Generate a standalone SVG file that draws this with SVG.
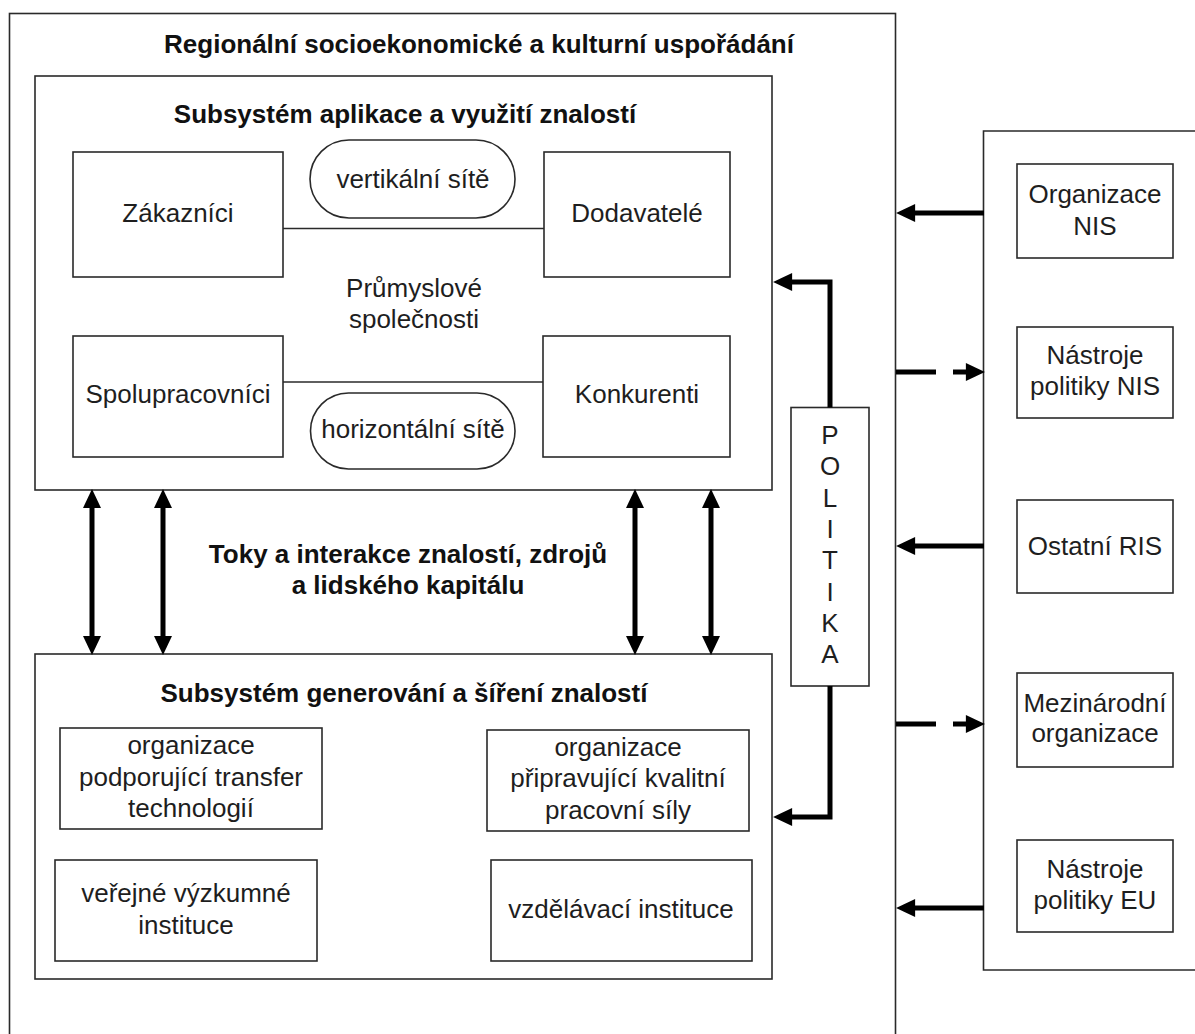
<svg xmlns="http://www.w3.org/2000/svg" width="1195" height="1034" viewBox="0 0 1195 1034">
<defs>
<style>
.box{fill:#fff;stroke:#2a2a2a;stroke-width:1.6}
.frame{fill:none;stroke:#2a2a2a;stroke-width:1.6}
.thin{fill:none;stroke:#2a2a2a;stroke-width:1.6}
.t{font-family:"Liberation Sans",Arial,sans-serif;font-size:26px;fill:#1e1e1e;text-anchor:middle}
.b{font-weight:bold;fill:#111}
.arr{fill:none;stroke:#000;stroke-width:5}
.dash{stroke-dasharray:40 17}
</style>
<marker id="ah" markerUnits="userSpaceOnUse" markerWidth="20" markerHeight="18" viewBox="0 0 18 17" refX="2" refY="8.5" orient="auto-start-reverse">
<path d="M0,0 L18,8.5 L0,17 z" fill="#000"/>
</marker>
</defs>
<rect width="1195" height="1034" fill="#fff"/>

<g id="outer-region">
<rect class="frame" x="9.5" y="13.5" width="886" height="1040"/>
<text class="t b" x="479" y="53">Regionální socioekonomické a kulturní uspořádání</text>
</g>

<g id="subsystem-application">
<rect class="box" x="35" y="76" width="737" height="414"/>
<text class="t b" x="405" y="123">Subsystém aplikace a využití znalostí</text>
</g>

<g id="industry-links">
<line class="thin" x1="283" y1="228.5" x2="544" y2="228.5"/>
<line class="thin" x1="283" y1="382" x2="543" y2="382"/>
</g>

<g id="zakaznici">
<rect class="box" x="73" y="152" width="210" height="125"/>
<text class="t" x="178" y="222">Zákazníci</text>
</g>
<g id="dodavatele">
<rect class="box" x="544" y="152" width="186" height="125"/>
<text class="t" x="637" y="222">Dodavatelé</text>
</g>
<g id="spolupracovnici">
<rect class="box" x="73" y="336" width="210" height="121"/>
<text class="t" x="178" y="403">Spolupracovníci</text>
</g>
<g id="konkurenti">
<rect class="box" x="543" y="336" width="187" height="121"/>
<text class="t" x="637" y="403">Konkurenti</text>
</g>
<g id="vertikalni-site">
<rect class="box" x="310" y="140" width="205" height="78" rx="39" ry="39"/>
<text class="t" x="413" y="188">vertikální sítě</text>
</g>
<g id="horizontalni-site">
<rect class="box" x="310.5" y="393" width="204.5" height="76" rx="38" ry="38"/>
<text class="t" x="413" y="438">horizontální sítě</text>
</g>
<g id="prumyslove-spolecnosti">
<text class="t" x="414" y="297">Průmyslové</text>
<text class="t" x="414" y="328">společnosti</text>
</g>

<g id="flows-label">
<text class="t b" x="408" y="563">Toky a interakce znalostí, zdrojů</text>
<text class="t b" x="408" y="594">a lidského kapitálu</text>
</g>

<g id="subsystem-generation">
<rect class="box" x="35" y="654" width="737" height="325"/>
<text class="t b" x="404" y="702">Subsystém generování a šíření znalostí</text>
</g>
<g id="transfer-org">
<rect class="box" x="60" y="728" width="262" height="101"/>
<text class="t" x="191" y="754">organizace</text>
<text class="t" x="191" y="785.5">podporující transfer</text>
<text class="t" x="191" y="817">technologií</text>
</g>
<g id="workforce-org">
<rect class="box" x="487" y="730" width="262" height="101"/>
<text class="t" x="618" y="756">organizace</text>
<text class="t" x="618" y="787">připravující kvalitní</text>
<text class="t" x="618" y="818.5">pracovní síly</text>
</g>
<g id="research-inst">
<rect class="box" x="55" y="860" width="262" height="101"/>
<text class="t" x="186" y="902">veřejné výzkumné</text>
<text class="t" x="186" y="934">instituce</text>
</g>
<g id="education-inst">
<rect class="box" x="491" y="860" width="261" height="101"/>
<text class="t" x="621" y="918">vzdělávací instituce</text>
</g>

<g id="politika">
<rect class="box" x="791" y="407.5" width="78" height="278.5"/>
<text class="t" x="830" y="444">P</text>
<text class="t" x="830" y="475.3">O</text>
<text class="t" x="830" y="506.6">L</text>
<text class="t" x="830" y="537.9">I</text>
<text class="t" x="830" y="569.2">T</text>
<text class="t" x="830" y="600.5">I</text>
<text class="t" x="830" y="631.8">K</text>
<text class="t" x="830" y="663.1">A</text>
</g>

<g id="external-frame">
<path class="frame" d="M1196,131 H983.5 V970 H1196"/>
</g>
<g id="organizace-nis">
<rect class="box" x="1017" y="164" width="156" height="94"/>
<text class="t" x="1095" y="203">Organizace</text>
<text class="t" x="1095" y="235">NIS</text>
</g>
<g id="nastroje-nis">
<rect class="box" x="1017" y="327" width="156" height="91"/>
<text class="t" x="1095" y="364">Nástroje</text>
<text class="t" x="1095" y="395">politiky NIS</text>
</g>
<g id="ostatni-ris">
<rect class="box" x="1017" y="500" width="156" height="93"/>
<text class="t" x="1095" y="555">Ostatní RIS</text>
</g>
<g id="mezinarodni-org">
<rect class="box" x="1017" y="673" width="156" height="94"/>
<text class="t" x="1095" y="712">Mezinárodní</text>
<text class="t" x="1095" y="742">organizace</text>
</g>
<g id="nastroje-eu">
<rect class="box" x="1017" y="840" width="156" height="92"/>
<text class="t" x="1095" y="878">Nástroje</text>
<text class="t" x="1095" y="909">politiky EU</text>
</g>

<g id="connectors">
<line class="arr" x1="92" y1="506" x2="92" y2="638" marker-start="url(#ah)" marker-end="url(#ah)"/>
<line class="arr" x1="163" y1="506" x2="163" y2="638" marker-start="url(#ah)" marker-end="url(#ah)"/>
<line class="arr" x1="635" y1="506" x2="635" y2="638" marker-start="url(#ah)" marker-end="url(#ah)"/>
<line class="arr" x1="711" y1="506" x2="711" y2="638" marker-start="url(#ah)" marker-end="url(#ah)"/>
<polyline class="arr" points="830,407.5 830,282 790,282" marker-end="url(#ah)"/>
<polyline class="arr" points="830,686 830,817 790,817" marker-end="url(#ah)"/>
<line class="arr" x1="984" y1="213" x2="913" y2="213" marker-end="url(#ah)"/>
<line class="arr dash" x1="896" y1="372" x2="968" y2="372" marker-end="url(#ah)"/>
<line class="arr" x1="984" y1="546" x2="913" y2="546" marker-end="url(#ah)"/>
<line class="arr dash" x1="896" y1="724" x2="968" y2="724" marker-end="url(#ah)"/>
<line class="arr" x1="984" y1="908" x2="913" y2="908" marker-end="url(#ah)"/>
</g>
</svg>
